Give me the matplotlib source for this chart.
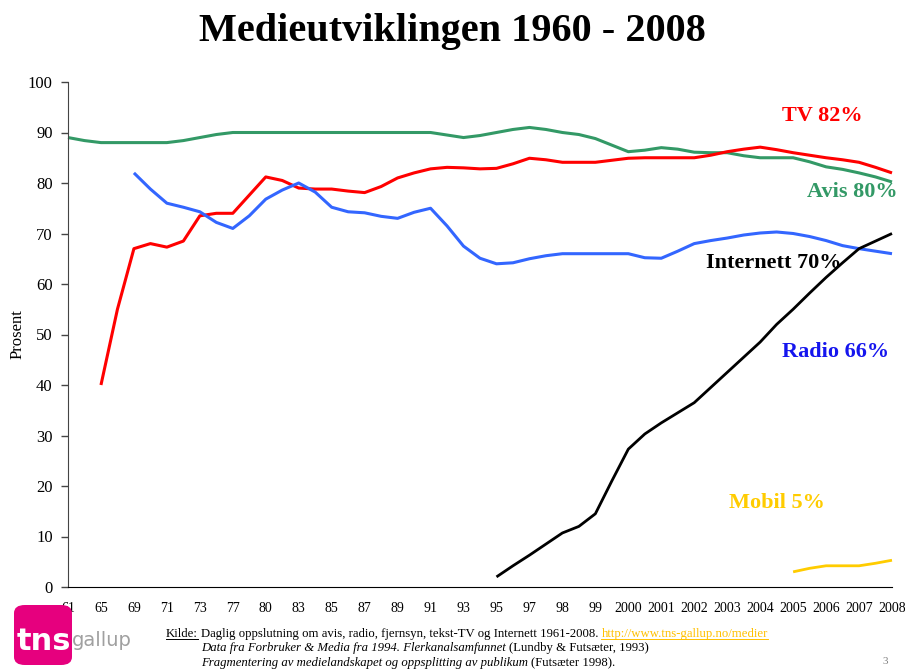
import numpy as np
import matplotlib
matplotlib.use('Agg')
import matplotlib.pyplot as plt
from matplotlib.patches import FancyBboxPatch

plt.rcParams['font.family'] = ['Liberation Serif', 'DejaVu Serif']

# kategorier på x-aksen
aar = ['61', '65', '69', '71', '73', '77', '80', '83', '85', '87', '89', '91', '93',
       '95', '97', '98', '99', '2000', '2001', '2002', '2003', '2004', '2005', '2006',
       '2007', '2008']

# verdier lest av bildet, halve kategoristeg; start = første kategori-indeks
avis_start = 0
avis = [89, 88.4, 88, 88, 88, 88, 88, 88.4, 89, 89.6, 90,
        90, 90, 90, 90, 90, 90, 90, 90, 90, 90, 90, 90,
        89.5, 89, 89.4, 90, 90.6, 91, 90.6, 90, 89.6, 88.8, 87.5, 86.2, 86.5, 87,
        86.7, 86.1, 86, 86, 85.4, 85, 85, 85, 84.2, 83.2, 82.7, 82, 81.2, 80.2]

tv_start = 1
tv = [40, 55, 67, 68, 67.3, 68.5, 73.5, 74, 74, 77.6, 81.2, 80.5, 79, 78.8, 78.8,
      78.4, 78.1, 79.3, 81, 82, 82.8, 83.1, 83, 82.8, 82.9, 83.8, 84.9, 84.6, 84.1,
      84.1, 84.1, 84.5, 84.9, 85, 85, 85, 85, 85.5, 86.2, 86.7, 87.1, 86.6, 86, 85.5,
      85, 84.6, 84.1, 83.1, 82]

radio_start = 2
radio = [82, 78.8, 76, 75.2, 74.3, 72.2, 71, 73.5, 76.8, 78.6, 80, 78.2, 75.2, 74.3,
         74.1, 73.4, 73, 74.2, 75, 71.5, 67.5, 65.1, 64, 64.2, 65, 65.6, 66, 66, 66,
         66, 66, 65.2, 65.1, 66.5, 68, 68.6, 69.1, 69.7, 70.1, 70.3, 70, 69.4, 68.6,
         67.6, 67, 66.5, 66]

internett_start = 13
internett = [2, 4.2, 6.3, 8.5, 10.7, 12, 14.5, 21, 27.3, 30.3, 32.5, 34.5, 36.5, 39.5,
             42.5, 45.5, 48.5, 52, 55, 58.2, 61.3, 64.2, 67, 68.5, 70]

mobil_start = 22
mobil = [3, 3.7, 4.2, 4.2, 4.2, 4.7, 5.3]

serier = [
    (avis_start, avis, '#339966', 2.2),
    (tv_start, tv, '#FF0000', 2.2),
    (radio_start, radio, '#3366FF', 2.2),
    (internett_start, internett, '#000000', 2.0),
    (mobil_start, mobil, '#FFCC00', 2.0),
]

fig = plt.figure(figsize=(9.05, 6.71), dpi=100)
ax = fig.add_axes([68 / 905, 1 - 587 / 671, (892 - 68) / 905, (587 - 82) / 671])

for start, verdier, farge, lw in serier:
    x = start + 0.5 * np.arange(len(verdier))
    ax.plot(x, verdier, color=farge, lw=lw, solid_capstyle='butt',
            solid_joinstyle='round', clip_on=False)

ax.set_xlim(0, len(aar) - 1)
ax.set_ylim(0, 100)
ax.set_xticks(range(len(aar)))
ax.set_xticklabels(aar, fontsize=10)
ax.set_yticks(range(0, 101, 10))
ax.tick_params(axis='y', labelsize=12, length=5, width=1, direction='out', pad=6, color='#444444')
ax.tick_params(axis='x', length=0, pad=11)
ax.spines['top'].set_visible(False)
ax.spines['right'].set_visible(False)
ax.spines['left'].set_color('#444444')
ax.spines['bottom'].set_color('black')
ax.set_ylabel('Prosent', fontsize=12, labelpad=2)

# etiketter ved linjene
ax.text(22.9, 93.3, 'TV 82%', color='#FF0000', fontsize=16, weight='bold', ha='center', va='center')
ax.text(23.8, 78.2, 'Avis 80%', color='#339966', fontsize=16, weight='bold', ha='center', va='center', clip_on=False)
ax.text(21.4, 64.2, 'Internett 70%', color='black', fontsize=16, weight='bold', ha='center', va='center')
ax.text(23.3, 46.5, 'Radio 66%', color='#1515EE', fontsize=16, weight='bold', ha='center', va='center')
ax.text(21.5, 16.6, 'Mobil 5%', color='#FFCC00', fontsize=16, weight='bold', ha='center', va='center')

fig.text(0.5, 1 - 31 / 671, 'Medieutviklingen 1960 - 2008', fontsize=29, weight='bold',
         ha='center', va='center')

# logo
logo = FancyBboxPatch((14 / 905, 1 - 665 / 671), 58 / 905, 60 / 671,
                      boxstyle='round,pad=0,rounding_size=0.012', transform=fig.transFigure,
                      facecolor='#E6007E', edgecolor='none')
fig.patches.append(logo)
fig.text(17 / 905, 1 - 641 / 671, 'tns', color='white', fontsize=22, weight='bold',
         family='DejaVu Sans', ha='left', va='center')
fig.text(72 / 905, 1 - 641 / 671, 'gallup', color='#A0A0A0', fontsize=14,
         family='DejaVu Sans', ha='left', va='center')

# kildetekst, bitene settes etter hverandre
renderer = fig.canvas.get_renderer()


def skriv(x, y, deler):
    for tekst, stil, farge, understrek in deler:
        t = fig.text(x / 905, 1 - y / 671, tekst, fontsize=9.2, style=stil, color=farge,
                     ha='left', va='baseline')
        bb = t.get_window_extent(renderer)
        if understrek:
            fig.add_artist(plt.Line2D([bb.x0 / 905, bb.x1 / 905],
                                      [(671 - y - 1.5) / 671, (671 - y - 1.5) / 671],
                                      color=farge, lw=0.7, transform=fig.transFigure))
        x = bb.x1 + 3


skriv(166, 637, [('Kilde:', 'normal', 'black', True),
                 ('Daglig oppslutning om avis, radio, fjernsyn, tekst-TV og Internett 1961-2008.', 'normal', 'black', False),
                 ('http://www.tns-gallup.no/medier', 'normal', '#FFC000', True)])
skriv(201, 651, [('Data fra Forbruker & Media fra 1994. Flerkanalsamfunnet', 'italic', 'black', False),
                 ('(Lundby & Futsæter, 1993)', 'normal', 'black', False)])
skriv(201, 666, [('Fragmentering av medielandskapet og oppsplitting av publikum', 'italic', 'black', False),
                 ('(Futsæter 1998).', 'normal', 'black', False)])
fig.text(885 / 905, 1 - 662 / 671, '3', fontsize=8, color='#808080', ha='center', va='center')

fig.savefig('out.png', dpi=100)
